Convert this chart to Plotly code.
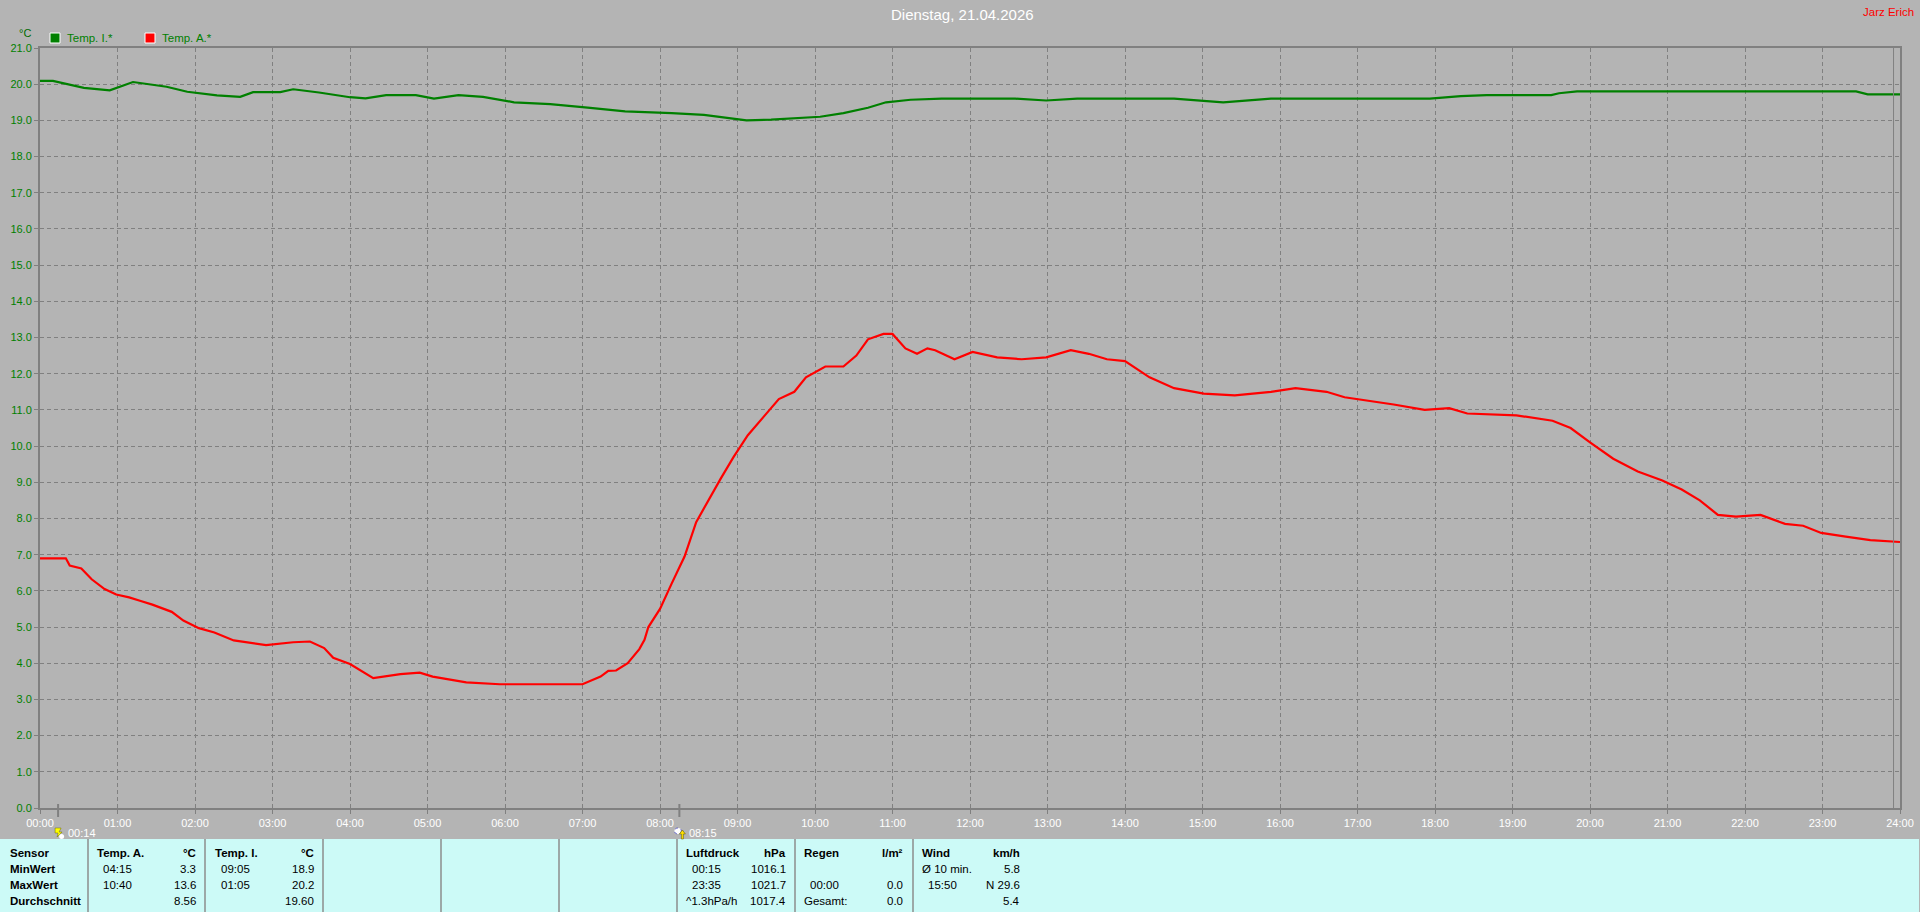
import plotly.graph_objects as go

# ---------------- data ----------------
title_text = "Dienstag, 21.04.2026"
author_text = "Jarz Erich"

tempA_times = ["00:00", "00:20", "00:23", "00:32", "00:40", "00:50", "00:59", "01:09", "01:18", "01:27",
               "01:42", "01:51", "02:03", "02:15", "02:30", "02:55", "03:16", "03:29", "03:40", "03:47",
               "04:00", "04:18", "04:39", "04:54", "05:04", "05:30", "05:56", "07:00", "07:14", "07:20",
               "07:26", "07:35", "07:44", "07:48", "07:51", "08:00", "08:09", "08:19", "08:28", "08:38",
               "08:47", "08:57", "09:08", "09:20", "09:32", "09:44", "09:53", "10:08", "10:22", "10:32",
               "10:41", "10:53", "11:00", "11:10", "11:19", "11:27", "11:33", "11:48", "12:02", "12:21",
               "12:40", "12:59", "13:18", "13:32", "13:46", "14:00", "14:19", "14:38", "15:01", "15:25",
               "15:53", "16:12", "16:36", "16:50", "17:09", "17:28", "17:52", "18:11", "18:25", "19:03",
               "19:31", "19:45", "20:00", "20:18", "20:37", "20:56", "21:11", "21:25", "21:39", "21:53",
               "22:12", "22:31", "22:45", "22:59", "23:18", "23:37", "24:00"]
tempA_values = [6.90, 6.90, 6.70, 6.62, 6.32, 6.05, 5.90, 5.82, 5.72, 5.62,
                5.42, 5.18, 4.97, 4.85, 4.63, 4.50, 4.58, 4.60, 4.42, 4.15,
                3.98, 3.59, 3.70, 3.74, 3.63, 3.47, 3.42, 3.42, 3.63, 3.79,
                3.80, 4.00, 4.39, 4.65, 5.00, 5.50, 6.20, 6.95, 7.90, 8.55,
                9.10, 9.70, 10.30, 10.80, 11.30, 11.50, 11.90, 12.20, 12.20, 12.50,
                12.95, 13.10, 13.10, 12.70, 12.55, 12.70, 12.65, 12.40, 12.60, 12.45,
                12.40, 12.45, 12.65, 12.55, 12.40, 12.35, 11.90, 11.60, 11.45, 11.40,
                11.50, 11.60, 11.50, 11.35, 11.25, 11.15, 11.00, 11.05, 10.90, 10.85,
                10.70, 10.50, 10.10, 9.65, 9.30, 9.05, 8.80, 8.50, 8.10, 8.05,
                8.10, 7.85, 7.80, 7.60, 7.50, 7.40, 7.35]

tempI_times = ["00:00", "00:10", "00:34", "00:54", "01:12", "01:23", "01:38", "01:54", "02:17", "02:35",
               "02:45", "03:06", "03:16", "03:36", "04:00", "04:12", "04:28", "04:51", "05:05", "05:24",
               "05:43", "06:07", "06:35", "07:04", "07:33", "08:09", "08:34", "09:07", "09:26", "10:04",
               "10:22", "10:41", "10:55", "11:14", "11:38", "12:35", "12:59", "13:23", "14:38", "15:16",
               "15:53", "17:56", "18:20", "18:40", "19:30", "19:36", "19:50", "23:26", "23:35", "24:00"]
tempI_values = [20.09, 20.09, 19.90, 19.83, 20.06, 20.00, 19.93, 19.79, 19.69, 19.65,
                19.78, 19.78, 19.86, 19.77, 19.64, 19.61, 19.70, 19.70, 19.60, 19.70,
                19.65, 19.50, 19.45, 19.35, 19.25, 19.20, 19.15, 19.00, 19.02, 19.10,
                19.20, 19.35, 19.50, 19.57, 19.60, 19.60, 19.55, 19.60, 19.60, 19.50,
                19.60, 19.60, 19.67, 19.70, 19.70, 19.75, 19.80, 19.80, 19.72, 19.72]

x_tick_hours = list(range(0, 25))
x_tick_labels = [f"{h:02d}:00" for h in x_tick_hours]
y_min, y_max = 0, 21

series_names = ["Temp. I.*", "Temp. A.*"]
series_colors = ["#008000", "#FF0000"]

event_times = ["00:14", "08:15"]
last_time = "23:55"

row_labels = ["Sensor", "MinWert", "MaxWert", "Durchschnitt"]
table_cols = [
    ("Temp. A.", "°C", ["04:15", "10:40", ""], ["3.3", "13.6", "8.56"]),
    ("Temp. I.", "°C", ["09:05", "01:05", ""], ["18.9", "20.2", "19.60"]),
    ("Luftdruck", "hPa", ["00:15", "23:35", "^1.3hPa/h"], ["1016.1", "1021.7", "1017.4"]),
    ("Regen", "l/m²", ["", "00:00", "Gesamt:"], ["", "0.0", "0.0"]),
    ("Wind", "km/h", ["Ø 10 min.", "15:50", ""], ["5.8", "N 29.6", "5.4"]),
]

# ---------------- layout geometry ----------------
W, H = 1920, 912
L, R, T, B = 40, 20, 48, 104
PW = W - L - R
PH = H - T - B
BG = "#B4B4B4"
GRID = "#808080"
CYAN = "#CCFAF7"
FONT = "Liberation Sans, Arial, sans-serif"


def px(xp):
    return (xp - L) / PW


def py(yp):
    return (H - B - yp) / PH


def hours(s):
    h, m = s.split(":")
    return int(h) + int(m) / 60.0


fig = go.Figure()
fig.add_trace(go.Scatter(x=[hours(t) for t in tempI_times], y=tempI_values, mode="lines",
                         line=dict(color=series_colors[0], width=2.2), name=series_names[0],
                         hoverinfo="skip"))
fig.add_trace(go.Scatter(x=[hours(t) for t in tempA_times], y=tempA_values, mode="lines",
                         line=dict(color=series_colors[1], width=2.2), name=series_names[1],
                         hoverinfo="skip"))

shapes = []
annotations = []

# bottom table background
shapes.append(dict(type="rect", xref="paper", yref="paper", x0=px(0), x1=px(1919), y0=py(839), y1=py(912),
                   fillcolor=CYAN, line=dict(width=0), layer="below"))
for sx in [88, 205, 323, 441, 559, 677, 795, 913]:
    shapes.append(dict(type="line", xref="paper", yref="paper", x0=px(sx), x1=px(sx), y0=py(839), y1=py(912),
                       line=dict(color="#8C8C8C", width=1.5)))

# "now" line near the right edge
shapes.append(dict(type="line", xref="x", yref="paper", x0=hours(last_time), x1=hours(last_time), y0=0, y1=1,
                   line=dict(color=GRID, width=1)))

# event markers below the x axis
for i, et in enumerate(event_times):
    t = hours(et)
    shapes.append(dict(type="line", xref="x", yref="paper", x0=t, x1=t, y0=py(804), y1=py(817),
                       line=dict(color=GRID, width=2)))
    if i == 0:
        shapes.append(dict(type="path", xref="x", yref="paper", xsizemode="pixel", ysizemode="pixel",
                           xanchor=t, yanchor=py(833), path="M -3,5 L 3,5 L 1,1 L 4,1 L -1,-4 L 0,0 L -3,0 Z",
                           fillcolor="#FFFF00", line=dict(color="#6B6B00", width=0.5)))
        shapes.append(dict(type="circle", xref="x", yref="paper", xsizemode="pixel", ysizemode="pixel",
                           xanchor=t, yanchor=py(836), x0=1, x1=6, y0=-3, y1=2,
                           fillcolor="#FFFFFF", line=dict(width=0)))
    else:
        shapes.append(dict(type="circle", xref="x", yref="paper", xsizemode="pixel", ysizemode="pixel",
                           xanchor=t, yanchor=py(831), x0=-5, x1=2, y0=-3, y1=3,
                           fillcolor="#FFFFFF", line=dict(color="#3030C0", width=0.7, dash="dot")))
        shapes.append(dict(type="path", xref="x", yref="paper", xsizemode="pixel", ysizemode="pixel",
                           xanchor=t, yanchor=py(835), path="M 0,1 L 3,5 L 6,1 L 4,1 L 4,-4 L 2,-4 L 2,1 Z",
                           fillcolor="#FFE000", line=dict(color="#505000", width=0.5)))
    annotations.append(dict(x=t, xref="x", y=py(833), yref="paper", xshift=8, text=et, showarrow=False,
                            xanchor="left", yanchor="middle", font=dict(family=FONT, size=11, color="white")))

# legend
leg_x = [50, 145]
for name, col, lx in zip(series_names, series_colors, leg_x):
    shapes.append(dict(type="rect", xref="paper", yref="paper", x0=px(lx), x1=px(lx + 10), y0=py(43), y1=py(33),
                       fillcolor=col, line=dict(color="white", width=1)))
    annotations.append(dict(x=px(lx + 15), y=py(38), xref="paper", yref="paper", text=name, showarrow=False,
                            xanchor="left", yanchor="middle", font=dict(family=FONT, size=11.5, color="#008000")))

# unit label, title, author
annotations.append(dict(x=px(25), y=py(33), xref="paper", yref="paper", text="°C", showarrow=False,
                        xanchor="center", yanchor="middle", font=dict(family=FONT, size=11, color="#006A00")))
annotations.append(dict(x=px(962), y=py(15), xref="paper", yref="paper", text=title_text, showarrow=False,
                        xanchor="center", yanchor="middle", font=dict(family=FONT, size=15, color="white")))
annotations.append(dict(x=px(1916), y=py(12), xref="paper", yref="paper", text=author_text, showarrow=False,
                        xanchor="right", yanchor="middle", font=dict(family=FONT, size=11.5, color="#FF0000")))

# table text
row_y = [853, 869, 885, 901]
tfont = dict(family=FONT, size=11.5, color="black")
for ry, lab in zip(row_y, row_labels):
    annotations.append(dict(x=px(8), y=py(ry), xref="paper", yref="paper", text=f"<b>{lab}</b>",
                            showarrow=False, xanchor="left", yanchor="middle", font=tfont))
col_pos = [(95, 198), (213, 316), (684, 788), (802, 905), (920, 1022)]
for (head, unit, labels, values), (cl, cr) in zip(table_cols, col_pos):
    annotations.append(dict(x=px(cl), y=py(row_y[0]), xref="paper", yref="paper", text=f"<b>{head}</b>",
                            showarrow=False, xanchor="left", yanchor="middle", font=tfont))
    annotations.append(dict(x=px(cr), y=py(row_y[0]), xref="paper", yref="paper", text=f"<b>{unit}</b>",
                            showarrow=False, xanchor="right", yanchor="middle", font=tfont))
    for ry, lab, val in zip(row_y[1:], labels, values):
        if lab:
            indent = 6 if lab[0].isdigit() else 0
            annotations.append(dict(x=px(cl + indent), y=py(ry), xref="paper", yref="paper", text=lab,
                                    showarrow=False, xanchor="left", yanchor="middle", font=tfont))
        if val:
            annotations.append(dict(x=px(cr), y=py(ry), xref="paper", yref="paper", text=val,
                                    showarrow=False, xanchor="right", yanchor="middle", font=tfont))

fig.update_layout(
    width=W, height=H, autosize=False,
    margin=dict(l=L, r=R, t=T, b=B, pad=0),
    paper_bgcolor=BG, plot_bgcolor=BG,
    showlegend=False,
    shapes=shapes, annotations=annotations,
    font=dict(family=FONT, size=11),
)
fig.update_xaxes(range=[0, 24], tickvals=x_tick_hours, ticktext=x_tick_labels, automargin=False,
                 tickfont=dict(family=FONT, size=11, color="white"),
                 showgrid=True, gridcolor=GRID, gridwidth=1, griddash="4px,3px",
                 showline=True, linecolor=GRID, linewidth=2, mirror=True,
                 ticks="outside", ticklen=4, tickcolor=GRID, tickwidth=1,
                 zeroline=False, fixedrange=True)
fig.update_yaxes(range=[y_min, y_max], dtick=1, tick0=0, tickformat=".1f", automargin=False,
                 tickfont=dict(family=FONT, size=11, color="#008000"),
                 showgrid=True, gridcolor=GRID, gridwidth=1, griddash="4px,3px",
                 showline=True, linecolor=GRID, linewidth=2, mirror=True,
                 ticks="outside", ticklen=4, tickcolor=GRID, tickwidth=1,
                 zeroline=False, fixedrange=True)

fig.write_html("out.html", config={"displayModeBar": False},
               post_script="document.body.style.margin='0';document.body.style.overflow='hidden';")
